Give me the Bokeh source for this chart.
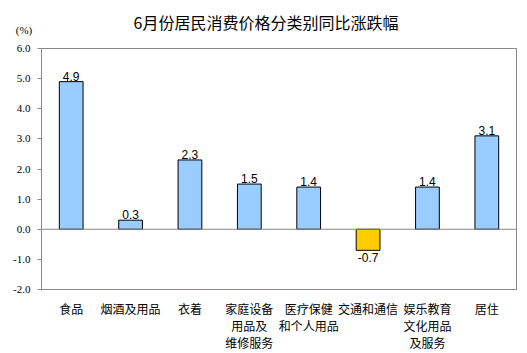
from bokeh.plotting import figure
from bokeh.layouts import column
from bokeh.models import Range1d, FixedTicker, Span, Label, ColumnDataSource
from bokeh.core.properties import value
from bokeh.embed import file_html
from bokeh.resources import INLINE

categories = ["食品", "烟酒及用品", "衣着", "家庭设备\n用品及\n维修服务",
              "医疗保健\n和个人用品", "交通和通信", "娱乐教育\n文化用品\n及服务", "居住"]
values = [4.9, 0.3, 2.3, 1.5, 1.4, -0.7, 1.4, 3.1]
y_ticks = [-2, -1, 0, 1, 2, 3, 4, 5, 6]
title_text = "6月份居民消费价格分类别同比涨跌幅"
unit_text = "(%)"

W, H, HEAD, GAP = 527, 353, 38, 10
LEFT, RIGHT = 41, 11

n = len(categories)
xs = [i + 0.5 for i in range(n)]
colors = ["#99CCFF" if v >= 0 else "#FFCC00" for v in values]
labels = ["%.1f" % v for v in values]

src = ColumnDataSource(dict(x=xs, top=values, color=colors, label=labels))
pos = ColumnDataSource(dict(x=[x for x, v in zip(xs, values) if v >= 0],
                            y=[v for v in values if v >= 0],
                            t=[l for l, v in zip(labels, values) if v >= 0]))
neg = ColumnDataSource(dict(x=[x for x, v in zip(xs, values) if v < 0],
                            y=[v for v in values if v < 0],
                            t=[l for l, v in zip(labels, values) if v < 0]))

# header strip holding the title and the unit
head = figure(width=W, height=HEAD, y_range=Range1d(0, HEAD),
              output_backend="svg", toolbar_location=None,
              x_axis_location=None, y_axis_location=None,
              min_border=0, min_border_left=0, min_border_right=0,
              min_border_top=0, min_border_bottom=0)
can_free = "frame_align" in head.properties()
if can_free:
    head.frame_align = False
    head.x_range = Range1d(0, W)
else:
    head.x_range = Range1d(LEFT, W - RIGHT)
head.xgrid.visible = False
head.ygrid.visible = False
head.outline_line_color = None
head.background_fill_color = "white"
head.border_fill_color = "white"
head.add_layout(Label(x=265.5, y=HEAD - 21, text=title_text, text_align="center",
                      text_baseline="middle", text_font="Noto Sans CJK SC",
                      text_font_size="16px", text_color="black"))
head.add_layout(Label(x=23.5 if can_free else LEFT, y=HEAD - 29, text=unit_text,
                      text_align="center" if can_free else "left",
                      text_baseline="middle", text_font="Liberation Serif",
                      text_font_size="11px", text_color="black"))

p = figure(width=W, height=H - HEAD, x_range=Range1d(0, n),
           y_range=Range1d(y_ticks[0], y_ticks[-1]),
           output_backend="svg", toolbar_location=None,
           min_border_left=LEFT, min_border_right=RIGHT, min_border_top=GAP, min_border_bottom=62)
p.xgrid.visible = False
p.ygrid.visible = False
p.outline_line_color = "#888888"
p.background_fill_color = "white"
p.border_fill_color = "white"

p.vbar(x="x", top="top", bottom=0, width=0.4, fill_color="color", line_color="black",
       line_width=1, source=src)

p.add_layout(Span(location=0, dimension="width", line_color="#888888", line_width=1))

p.text(x="x", y="y", text="t", source=pos, text_align="center", text_baseline="bottom",
       y_offset=-1, text_font=value("Liberation Sans"), text_font_size=value("12px"),
       text_color="black")
p.text(x="x", y="y", text="t", source=neg, text_align="center", text_baseline="top",
       y_offset=3, text_font=value("Liberation Sans"), text_font_size=value("12px"),
       text_color="black")

# y axis
p.yaxis.ticker = FixedTicker(ticks=y_ticks)
p.yaxis.major_label_overrides = {t: "%.1f" % t for t in y_ticks}
p.yaxis.major_label_text_font = "Liberation Serif"
p.yaxis.major_label_text_font_size = "11px"
p.yaxis.major_label_text_color = "black"
p.yaxis.axis_line_color = "#888888"
p.yaxis.major_tick_line_color = "#888888"
p.yaxis.major_tick_out = 4
p.yaxis.major_tick_in = 0
p.yaxis.minor_tick_line_color = None
p.yaxis.major_label_standoff = 7

# x axis
p.xaxis.ticker = FixedTicker(ticks=xs)
p.xaxis.major_label_overrides = {x: c for x, c in zip(xs, categories)}
p.xaxis.major_label_text_font = "Noto Sans CJK SC"
p.xaxis.major_label_text_font_size = "12px"
p.xaxis.major_label_text_color = "black"
p.xaxis.major_label_text_line_height = 1.0
p.xaxis.axis_line_color = "#888888"
p.xaxis.major_tick_line_color = None
p.xaxis.minor_tick_line_color = None
p.xaxis.major_label_standoff = 4

layout = column(head, p, spacing=0)
open("out.html", "w").write(file_html(layout, INLINE))
